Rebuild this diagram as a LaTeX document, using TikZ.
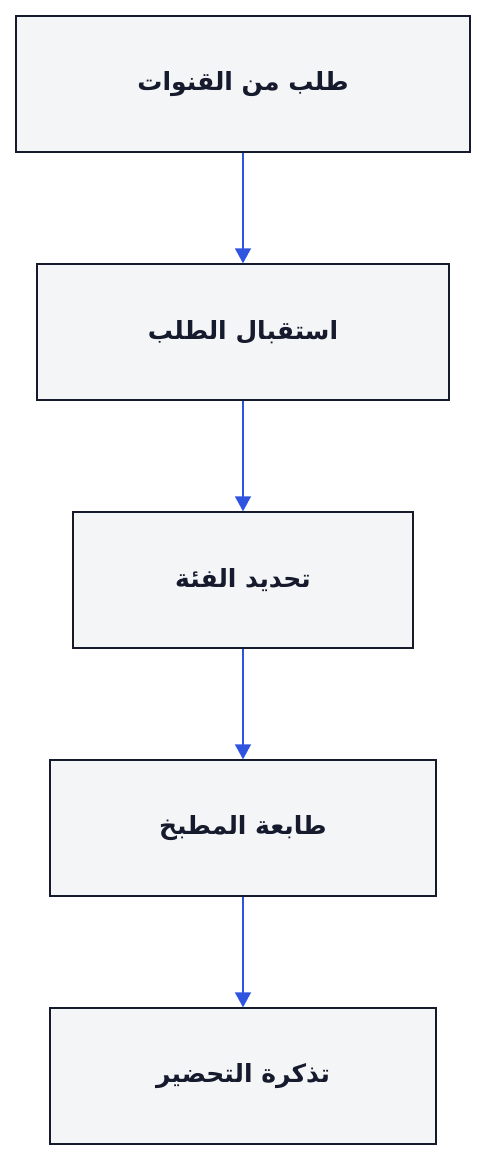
\documentclass[tikz,border=0pt]{standalone}
\usepackage{fontspec}
\usetikzlibrary{arrows.meta}
\TeXXeTstate=1
\newfontfamily\arabicfont[Script=Arabic]{DejaVu Sans}
\definecolor{boxfill}{HTML}{F4F5F7}
\definecolor{boxline}{HTML}{151A2D}
\definecolor{flowblue}{HTML}{2F54E0}
\tikzstyle{stage} = [draw=boxline, fill=boxfill, line width=1.4pt, minimum height=136pt, inner sep=0pt, text=boxline, font=\arabicfont\bfseries\fontsize{25}{30}\selectfont]
\tikzstyle{flow} = [flowblue, line width=1.4pt, -{Triangle[width=16pt,length=15pt]}]

\begin{document}
\begin{tikzpicture}[x=1pt,y=1pt]
			\useasboundingbox (0,0) rectangle (486,-1160);
			\node[stage, minimum width=454pt] (channels) at (243,-84) {\beginR طلب من القنوات\endR};
			\node[stage, minimum width=412pt] (receive) at (243,-332) {\beginR استقبال الطلب\endR};
			\node[stage, minimum width=340pt] (category) at (243,-580) {\beginR تحديد الفئة\endR};
			\node[stage, minimum width=386pt] (printer) at (243,-828) {\beginR طابعة المطبخ\endR};
			\node[stage, minimum width=386pt] (ticket) at (243,-1076) {\beginR تذكرة التحضير\endR};
			\draw[flow] (channels) -- (receive);
			\draw[flow] (receive) -- (category);
			\draw[flow] (category) -- (printer);
			\draw[flow] (printer) -- (ticket);
		\end{tikzpicture}
\end{document}
